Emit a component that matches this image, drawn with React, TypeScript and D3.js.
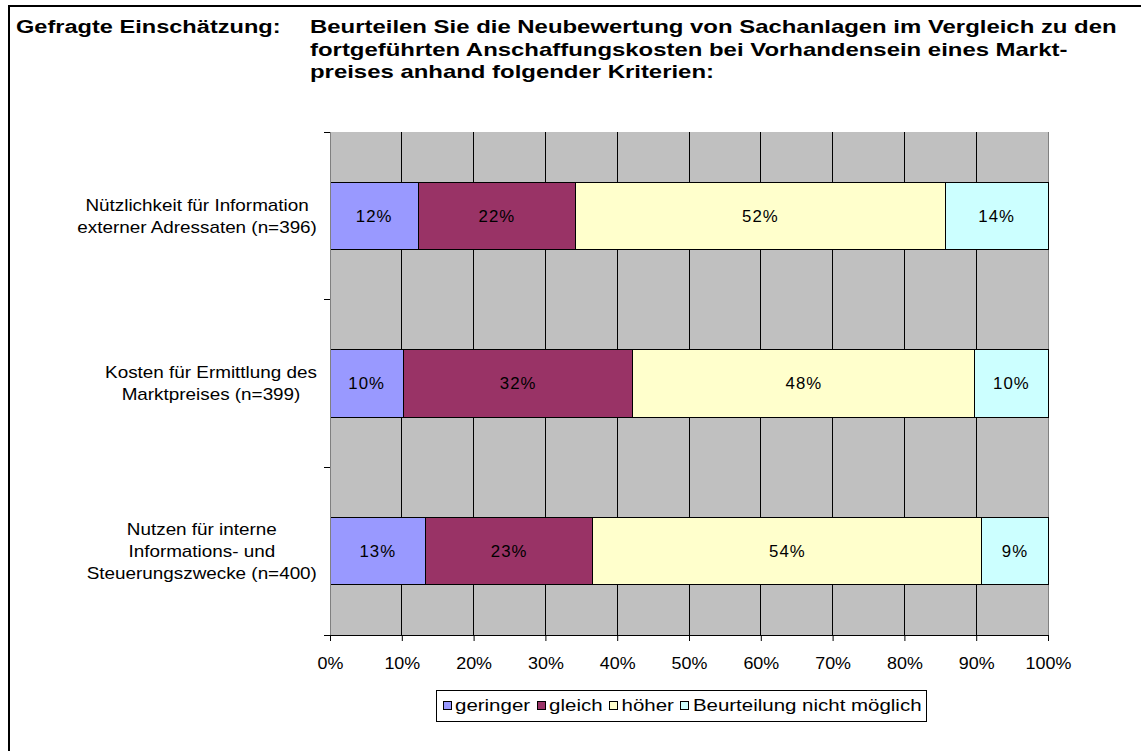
import React, { useEffect, useRef } from 'react';
import * as d3 from 'd3';

// categories, top to bottom, each split into its label lines
const categories = ['n396', 'n399', 'n400'];
const categoryLines: string[][] = [
  ['Nützlichkeit für Information', 'externer Adressaten (n=396)'],
  ['Kosten für Ermittlung des', 'Marktpreises (n=399)'],
  ['Nutzen für interne', 'Informations- und', 'Steuerungszwecke (n=400)'],
];

const seriesNames = ['geringer', 'gleich', 'höher', 'Beurteilung nicht möglich'];
const seriesColors = ['#9999FF', '#993366', '#FFFFCC', '#CCFFFF'];

// shares per category, in series order (sum to 100)
const geringer = [12.3, 10.2, 13.3];
const gleich = [21.9, 32.0, 23.3];
const hoeher = [51.5, 47.6, 54.2];
const nichtMoeglich = [14.3, 10.2, 9.2];

const xTicks = [0, 10, 20, 30, 40, 50, 60, 70, 80, 90, 100];

const titleLeft = 'Gefragte Einschätzung:';
const titleLines = [
  'Beurteilen Sie die Neubewertung von Sachanlagen im Vergleich zu den',
  'fortgeführten Anschaffungskosten bei Vorhandensein eines Markt-',
  'preises anhand folgender Kriterien:',
];

const W = 1141;
const H = 751;
const FONT = 'Arial, "Liberation Sans", Helvetica, sans-serif';

type Sel = d3.Selection<any, any, any, any>;

// text that is stretched horizontally like the original export
function stretchedText(
  parent: Sel,
  x: number,
  y: number,
  txt: string,
  opts: { size: number; sx: number; anchor?: string; weight?: string; dy?: string; ls?: number }
) {
  const g = parent.append('g').attr('transform', `translate(${x},${y}) scale(${opts.sx},1)`);
  const t = g
    .append('text')
    .attr('font-family', FONT)
    .attr('font-size', opts.size)
    .attr('font-weight', opts.weight || 'normal')
    .attr('text-anchor', opts.anchor || 'start')
    .attr('dy', opts.dy || null)
    .attr('letter-spacing', opts.ls || null)
    .attr('fill', '#000')
    .text(txt);
  return (t.node() as SVGTextElement).getComputedTextLength() * opts.sx;
}

const Chart: React.FC = () => {
  const svgRef = useRef<SVGSVGElement>(null);

  useEffect(() => {
    if (!svgRef.current) return;
    const svg = d3.select(svgRef.current);
    svg.selectAll('*').remove();

    // outer frame (right/bottom edges run off the picture)
    svg
      .append('rect')
      .attr('x', 9)
      .attr('y', 6)
      .attr('width', 1200)
      .attr('height', 800)
      .attr('fill', 'white')
      .attr('stroke', 'black')
      .attr('stroke-width', 2);

    // title
    stretchedText(svg, 16, 33, titleLeft, { size: 18, sx: 1.31, weight: 'bold' });
    titleLines.forEach((line, i) => {
      stretchedText(svg, 310, 33 + i * 22.5, line, { size: 18, sx: 1.33, weight: 'bold' });
    });

    const left = 330;
    const right = 1048;
    const top = 132;
    const bottom = 635;

    const x = d3.scaleLinear().domain([0, 100]).range([left, right]);
    const y = d3
      .scaleBand<string>()
      .domain(categories)
      .range([top, bottom])
      .paddingInner(0.6)
      .paddingOuter(0.3);

    // plot background
    svg
      .append('rect')
      .attr('x', left)
      .attr('y', top)
      .attr('width', right - left)
      .attr('height', bottom - top)
      .attr('fill', '#C0C0C0');

    // vertical gridlines
    svg
      .append('g')
      .selectAll('line')
      .data(xTicks.slice(1))
      .enter()
      .append('line')
      .attr('x1', (d) => x(d))
      .attr('x2', (d) => x(d))
      .attr('y1', top)
      .attr('y2', bottom)
      .attr('stroke', (d) => (d === 100 ? '#808080' : '#000'))
      .attr('stroke-width', 1)
      .attr('shape-rendering', 'crispEdges');

    // stacked bars
    const table = categories.map((c, i) => ({
      cat: c,
      geringer: geringer[i],
      gleich: gleich[i],
      hoeher: hoeher[i],
      nicht: nichtMoeglich[i],
    }));
    const keys = ['geringer', 'gleich', 'hoeher', 'nicht'];
    const stacked = d3.stack<any>().keys(keys)(table);

    stacked.forEach((layer, li) => {
      const g = svg.append('g');
      g.selectAll('rect')
        .data(layer)
        .enter()
        .append('rect')
        .attr('x', (d) => x(d[0]))
        .attr('y', (d) => y(d.data.cat)!)
        .attr('width', (d) => x(d[1]) - x(d[0]))
        .attr('height', y.bandwidth())
        .attr('fill', seriesColors[li])
        .attr('stroke', '#000')
        .attr('stroke-width', 1)
        .attr('shape-rendering', 'crispEdges');
      layer.forEach((d) => {
        stretchedText(
          g,
          (x(d[0]) + x(d[1])) / 2,
          y(d.data.cat)! + y.bandwidth() / 2,
          `${Math.round(d[1] - d[0])}%`,
          { size: 16, sx: 1.05, anchor: 'middle', dy: '0.36em', ls: 1 }
        );
      });
    });

    // left axis line + ticks at category boundaries
    svg
      .append('line')
      .attr('x1', left)
      .attr('x2', left)
      .attr('y1', top)
      .attr('y2', bottom)
      .attr('stroke', '#808080')
      .attr('shape-rendering', 'crispEdges');
    const step = y.step();
    svg
      .append('g')
      .selectAll('line')
      .data(d3.range(categories.length + 1))
      .enter()
      .append('line')
      .attr('x1', left - 6)
      .attr('x2', left)
      .attr('y1', (i) => top + i * step)
      .attr('y2', (i) => top + i * step)
      .attr('stroke', '#000')
      .attr('shape-rendering', 'crispEdges');

    // category labels: lines centred in a box right-aligned to the axis
    const labelRight = 317;
    const catSize = 16;
    const catSx = 1.18;
    categories.forEach((c, i) => {
      const lines = categoryLines[i];
      const cy = y(c)! + y.bandwidth() / 2;
      const lh = 22;
      const probe = svg
        .append('text')
        .attr('font-family', FONT)
        .attr('font-size', catSize);
      const widths = lines.map((l) => {
        probe.text(l);
        return (probe.node() as SVGTextElement).getComputedTextLength() * catSx;
      });
      probe.remove();
      const cx = labelRight - d3.max(widths)! / 2;
      lines.forEach((l, j) => {
        stretchedText(svg, cx, cy + (j - (lines.length - 1) / 2) * lh, l, {
          size: catSize,
          sx: catSx,
          anchor: 'middle',
          dy: '0.36em',
        });
      });
    });

    // bottom axis
    const xAxis = d3
      .axisBottom(x)
      .tickValues(xTicks)
      .tickSize(6)
      .tickPadding(17)
      .tickFormat((d) => `${d}%`);
    const ax = svg
      .append('g')
      .attr('transform', `translate(0, ${bottom})`)
      .call(xAxis);
    ax.select('.domain').attr('stroke', '#000').attr('d', `M${left},0.5H${right}`);
    ax.selectAll('.tick line').attr('stroke', '#000');
    ax.selectAll('.tick text')
      .attr('font-family', FONT)
      .attr('font-size', 16)
      .attr('transform', 'scale(1.12,1)')
      .attr('fill', '#000');

    // legend
    const legendX = 436;
    const legendY = 690;
    const legend = svg.append('g');
    const box = legend
      .append('rect')
      .attr('x', legendX)
      .attr('y', legendY)
      .attr('height', 31)
      .attr('fill', 'white')
      .attr('stroke', '#000')
      .attr('stroke-width', 1)
      .attr('shape-rendering', 'crispEdges');
    let cx = legendX + 7;
    seriesNames.forEach((name, i) => {
      legend
        .append('rect')
        .attr('x', cx)
        .attr('y', legendY + 11)
        .attr('width', 8)
        .attr('height', 8)
        .attr('fill', seriesColors[i])
        .attr('stroke', '#000')
        .attr('shape-rendering', 'crispEdges');
      const tw = stretchedText(legend, cx + 12, legendY + 15.5, name, {
        size: 16,
        sx: 1.28,
        dy: '0.36em',
      });
      cx += 12 + tw + 7;
    });
    box.attr('width', cx - legendX - 2);
  }, []);

  return (
    <svg
      ref={svgRef}
      width={W}
      height={H}
      style={{ position: 'absolute', left: 0, top: 0, background: 'white' }}
    />
  );
};

export default function App() {
  return <Chart />;
}
